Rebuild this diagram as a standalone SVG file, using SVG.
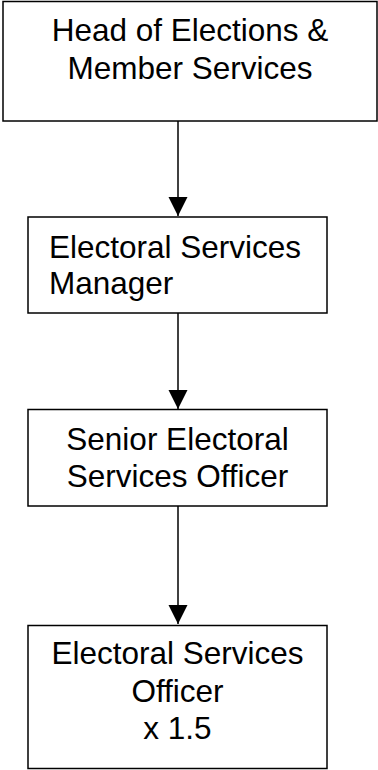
<svg xmlns="http://www.w3.org/2000/svg" width="378" height="770" viewBox="0 0 378 770">
<style>
.box{fill:#fff;stroke:#000;stroke-width:1.5}
.t{font-family:"Liberation Sans",Arial,sans-serif;font-size:31.5px;fill:#000}
.c{text-anchor:middle}
.ln{stroke:#000;stroke-width:1.5;fill:none}
</style>
<defs>
<marker id="ah" markerUnits="userSpaceOnUse" markerWidth="20" markerHeight="20" viewBox="0 0 20 20" refX="19" refY="10" orient="auto">
<path d="M0,0.5 L19,10 L0,19.5 Z" fill="#000"/>
</marker>
</defs>
<g id="connectors">
<line class="ln" x1="178" y1="121" x2="178" y2="216" marker-end="url(#ah)"/>
<line class="ln" x1="178" y1="313" x2="178" y2="409" marker-end="url(#ah)"/>
<line class="ln" x1="178" y1="506" x2="178" y2="624" marker-end="url(#ah)"/>
</g>
<g id="n1">
<rect class="box" x="3" y="1.5" width="374" height="119.5"/>
<text class="t c" x="190" y="41">Head of Elections &amp;</text>
<text class="t c" x="190" y="79">Member Services</text>
</g>
<g id="n2">
<rect class="box" x="28" y="217" width="299" height="96"/>
<text class="t" x="49" y="258">Electoral Services</text>
<text class="t" x="49" y="294">Manager</text>
</g>
<g id="n3">
<rect class="box" x="28" y="409.5" width="299" height="96.5"/>
<text class="t c" x="177.5" y="450">Senior Electoral</text>
<text class="t c" x="177.5" y="487">Services Officer</text>
</g>
<g id="n4">
<rect class="box" x="28" y="625.5" width="299" height="143"/>
<text class="t c" x="177.5" y="664">Electoral Services</text>
<text class="t c" x="177.5" y="702">Officer</text>
<text class="t c" x="177.5" y="739">x 1.5</text>
</g>
</svg>
